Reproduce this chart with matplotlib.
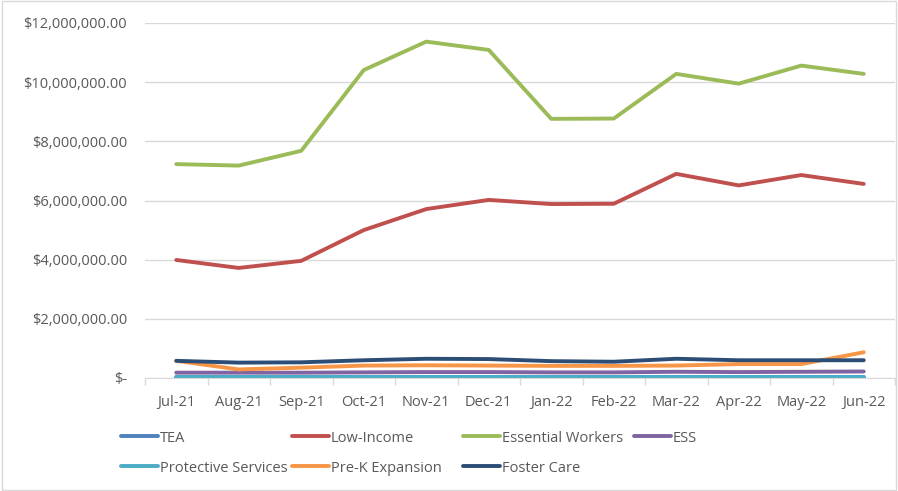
import matplotlib
matplotlib.use("Agg")
import matplotlib.pyplot as plt
from matplotlib.ticker import FuncFormatter, FixedLocator
from matplotlib.patches import Rectangle

months = ["Jul-21", "Aug-21", "Sep-21", "Oct-21", "Nov-21", "Dec-21",
          "Jan-22", "Feb-22", "Mar-22", "Apr-22", "May-22", "Jun-22"]

tea = [30000, 30000, 30000, 32000, 33000, 33000, 32000, 32000, 33000, 33000, 33000, 33000]
low_income = [3990000, 3720000, 3960000, 5000000, 5710000, 6020000, 5880000, 5890000, 6900000, 6510000, 6860000, 6560000]
essential = [7230000, 7180000, 7680000, 10410000, 11370000, 11090000, 8760000, 8770000, 10280000, 9950000, 10560000, 10280000]
ess = [180000, 180000, 180000, 190000, 200000, 200000, 190000, 190000, 210000, 200000, 210000, 220000]
protective = [20000, 20000, 20000, 20000, 20000, 20000, 20000, 20000, 20000, 20000, 20000, 20000]
prek = [580000, 290000, 350000, 420000, 430000, 420000, 410000, 410000, 420000, 470000, 470000, 870000]
foster = [580000, 520000, 530000, 600000, 650000, 640000, 570000, 550000, 650000, 600000, 600000, 600000]

series = [
    ("TEA", tea, "#4F81BD"),
    ("Low-Income", low_income, "#C0504D"),
    ("Essential Workers", essential, "#9BBB59"),
    ("ESS", ess, "#8064A2"),
    ("Protective Services", protective, "#4BACC6"),
    ("Pre-K Expansion", prek, "#F79646"),
    ("Foster Care", foster, "#2C4D75"),
]

plt.rcParams['font.family'] = ['Open Sans', 'DejaVu Sans']

fig = plt.figure(figsize=(8.98, 4.91), dpi=100)
ax = fig.add_axes([145/898, 1-378/491, (895-145)/898, (378-23)/491])

x = list(range(len(months)))
handles = []
for name, vals, col in series:
    h, = ax.plot(x, vals, color=col, lw=2.8, label=name, solid_capstyle='round')
    handles.append(h)

ax.set_xlim(-0.5, len(months)-0.5)
ax.set_ylim(0, 12000000)
ax.set_yticks(range(0, 12000001, 2000000))

def fmt(v, pos):
    if v == 0:
        return "$-"
    return "${:,.2f}".format(v)
ax.yaxis.set_major_formatter(FuncFormatter(fmt))
ax.set_xticks(x)
ax.set_xticklabels(months)
ax.xaxis.set_minor_locator(FixedLocator([i - 0.5 for i in range(len(months)+1)]))
ax.tick_params(axis='x', which='major', length=0, pad=12, labelsize=10.5, labelcolor="#595959")
ax.tick_params(axis='x', which='minor', length=5, color="#D9D9D9", width=1)
ax.tick_params(axis='y', length=0, pad=13, labelsize=10.5, labelcolor="#595959")
ax.grid(axis='y', color="#D9D9D9", lw=1)
ax.set_axisbelow(True)
for s in ['top', 'right', 'left']:
    ax.spines[s].set_visible(False)
ax.spines['bottom'].set_color("#D9D9D9")

# legend entries in an Excel-like grid with equal column widths
for i, (h, (name, _, _)) in enumerate(zip(handles, series)):
    row, colidx = divmod(i, 4)
    xp = (121 + 171 * colidx) / 898
    yp = 1 - (438 + 30 * row) / 491
    fig.legend([h], [name], loc='center left', bbox_to_anchor=(xp, yp),
               frameon=False, fontsize=10.5, handlelength=2.55, handletextpad=0.1,
               borderaxespad=0, borderpad=0, labelcolor="#595959")

fig.patches.append(Rectangle((0.002, 0.002), 0.996, 0.996, transform=fig.transFigure,
                             fill=False, edgecolor="#D9D9D9", lw=1))

fig.savefig("out.png", dpi=100)
